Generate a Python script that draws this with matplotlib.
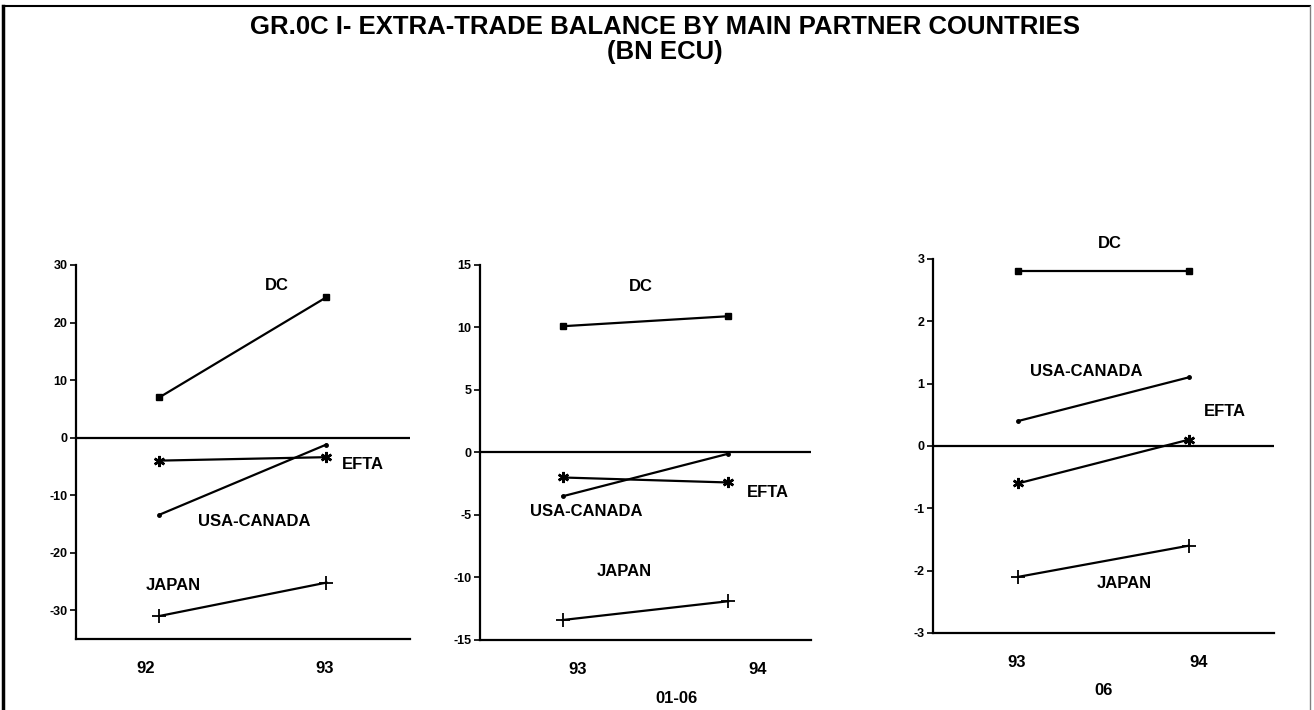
import matplotlib
matplotlib.use("Agg")
import matplotlib.pyplot as plt
from matplotlib.lines import Line2D

plt.rcParams['font.family'] = ['Liberation Sans', 'DejaVu Sans']
plt.rcParams['font.weight'] = 'bold'
plt.rcParams['axes.unicode_minus'] = False

series = ['DC', 'EFTA', 'USA-CANADA', 'JAPAN']

# panel 1: 92 -> 93
p1_years = ['92', '93']
p1_dc = [7.0, 24.4]
p1_efta = [-4.0, -3.4]
p1_usa = [-13.4, -1.2]
p1_japan = [-31.0, -25.2]

# panel 2: 93 -> 94, months 01-06
p2_years = ['93', '94']
p2_dc = [10.1, 10.9]
p2_efta = [-2.0, -2.4]
p2_usa = [-3.5, -0.1]
p2_japan = [-13.4, -11.9]

# panel 3: 93 -> 94, month 06
p3_years = ['93', '94']
p3_dc = [2.8, 2.8]
p3_efta = [-0.6, 0.1]
p3_usa = [0.4, 1.1]
p3_japan = [-2.1, -1.6]

styles = {
    'DC': dict(marker='s', ms=5),
    'EFTA': dict(marker=(6, 2, 0), ms=8, mew=1.8),
    'USA-CANADA': dict(marker='o', ms=2.5),
    'JAPAN': dict(marker='+', ms=10, mew=1.3),
}

panels = [
    dict(rect=[0.0578, 0.100, 0.2542, 0.5268], ylim=(-35, 30), yticks=range(-30, 31, 10),
         years=p1_years, data=[p1_dc, p1_efta, p1_usa, p1_japan], sub=None,
         xlab=[-0.08, 0.99], sublab=None,
         labels={'DC': (0.70, 26.5), 'EFTA': (1.22, -4.7), 'USA-CANADA': (0.57, -14.6),
                 'JAPAN': (0.08, -25.7)}),
    dict(rect=[0.3653, 0.0986, 0.2519, 0.5282], ylim=(-15, 15), yticks=range(-15, 16, 5),
         years=p2_years, data=[p2_dc, p2_efta, p2_usa, p2_japan], sub='01-06',
         xlab=[0.09, 1.18], sublab=0.69,
         labels={'DC': (0.47, 13.3), 'EFTA': (1.24, -3.2), 'USA-CANADA': (0.14, -4.7),
                 'JAPAN': (0.37, -9.5)}),
    dict(rect=[0.7100, 0.1085, 0.2595, 0.5268], ylim=(-3, 3), yticks=range(-3, 4, 1),
         years=p3_years, data=[p3_dc, p3_efta, p3_usa, p3_japan], sub='06',
         xlab=[-0.01, 1.06], sublab=0.50,
         labels={'DC': (0.54, 3.25), 'EFTA': (1.21, 0.55), 'USA-CANADA': (0.40, 1.2),
                 'JAPAN': (0.62, -2.2)}),
]

fig = plt.figure(figsize=(13.14, 7.10), dpi=100)

for p in panels:
    ax = fig.add_axes(p['rect'])
    x = [0, 1]
    for name, vals in zip(series, p['data']):
        ax.plot(x, vals, color='black', lw=1.6, **styles[name])
    ax.axhline(0, color='black', lw=1.6)
    ax.set_xlim(-0.5, 1.5)
    ax.set_ylim(*p['ylim'])
    ax.spines['top'].set_visible(False)
    ax.spines['right'].set_visible(False)
    ax.spines['left'].set_linewidth(1.6)
    ax.spines['bottom'].set_linewidth(1.6)
    ax.set_yticks(list(p['yticks']))
    ax.tick_params(axis='y', length=4, width=1.2, labelsize=9, pad=2)
    ax.set_xticks(p['xlab'], p['years'])
    ax.tick_params(axis='x', length=0, labelsize=12, pad=16)
    if p['sub']:
        ax.text(p['sublab'], -0.155, p['sub'], transform=ax.get_xaxis_transform(),
                ha='center', va='center', fontsize=12, fontweight='bold')
    for name, (lx, ly) in p['labels'].items():
        ax.text(lx, ly, name, ha='center', va='center', fontsize=12, fontweight='bold')

fig.text(0.506, 0.962, 'GR.0C I- EXTRA-TRADE BALANCE BY MAIN PARTNER COUNTRIES',
         ha='center', va='center', fontsize=18.5, fontweight='bold')
fig.text(0.506, 0.927, '(BN ECU)', ha='center', va='center', fontsize=18.5, fontweight='bold')

# page frame
fig.add_artist(Line2D([0.002, 0.002], [0, 0.992], color='black', lw=2.5))
fig.add_artist(Line2D([0.002, 0.997], [0.992, 0.992], color='black', lw=1.5))
fig.add_artist(Line2D([0.997, 0.997], [0, 0.992], color='gray', lw=1.0))

fig.savefig('out.png', dpi=100)
